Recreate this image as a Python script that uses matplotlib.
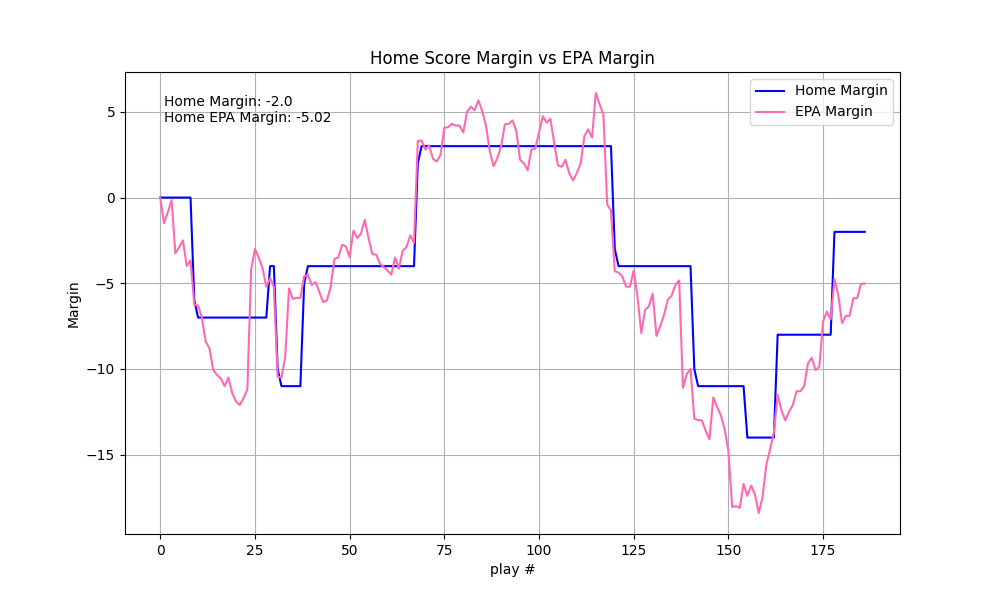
import matplotlib
matplotlib.use("Agg")
import matplotlib.pyplot as plt
import numpy as np

# score margin (home - away) after each play
home_margin = [
    0, 0, 0, 0, 0, 0, 0, 0, 0, -6,
    -7, -7, -7, -7, -7, -7, -7, -7, -7, -7,
    -7, -7, -7, -7, -7, -7, -7, -7, -7, -4,
    -4, -10, -11, -11, -11, -11, -11, -11, -5, -4,
    -4, -4, -4, -4, -4, -4, -4, -4, -4, -4,
    -4, -4, -4, -4, -4, -4, -4, -4, -4, -4,
    -4, -4, -4, -4, -4, -4, -4, -4, 2, 3,
    3, 3, 3, 3, 3, 3, 3, 3, 3, 3,
    3, 3, 3, 3, 3, 3, 3, 3, 3, 3,
    3, 3, 3, 3, 3, 3, 3, 3, 3, 3,
    3, 3, 3, 3, 3, 3, 3, 3, 3, 3,
    3, 3, 3, 3, 3, 3, 3, 3, 3, 3,
    -3, -4, -4, -4, -4, -4, -4, -4, -4, -4,
    -4, -4, -4, -4, -4, -4, -4, -4, -4, -4,
    -4, -10, -11, -11, -11, -11, -11, -11, -11, -11,
    -11, -11, -11, -11, -11, -14, -14, -14, -14, -14,
    -14, -14, -14, -8, -8, -8, -8, -8, -8, -8,
    -8, -8, -8, -8, -8, -8, -8, -8, -2, -2,
    -2, -2, -2, -2, -2, -2, -2,
]

# expected points margin after each play
epa_margin = [
    0.0, -1.5, -0.85, -0.15, -3.25, -2.9, -2.5, -4.0, -3.65, -6.26,
    -6.3, -7.0, -8.4, -8.8, -10.06, -10.35, -10.55, -11.0, -10.5, -11.4,
    -11.9, -12.1, -11.7, -11.2, -4.2, -3.0, -3.5, -4.1, -5.2, -4.7,
    -5.2, -10.45, -10.5, -9.3, -5.3, -5.9, -5.85, -5.85, -4.6, -4.5,
    -5.1, -4.93, -5.5, -6.1, -6.0, -5.2, -3.57, -3.5, -2.75, -2.85,
    -3.47, -1.93, -2.36, -2.1, -1.29, -2.36, -3.3, -3.33, -3.85, -4.05,
    -4.25, -4.5, -3.5, -4.15, -3.1, -2.9, -2.2, -2.65, 3.3, 3.33,
    2.8, 3.04, 2.26, 2.1, 2.5, 4.07, 4.1, 4.3, 4.2, 4.2,
    3.8, 5.0, 5.3, 5.1, 5.67, 5.05, 4.2, 2.7, 1.83, 2.3,
    3.0, 4.27, 4.3, 4.5, 3.9, 2.2, 2.0, 1.6, 2.8, 2.85,
    3.8, 4.75, 4.37, 4.6, 3.2, 1.87, 1.8, 2.2, 1.4, 1.0,
    1.44, 2.0, 3.6, 3.98, 3.5, 6.1, 5.44, 4.85, -0.4, -0.75,
    -4.3, -4.37, -4.6, -5.2, -5.2, -4.25, -5.77, -7.9, -6.55, -6.35,
    -5.6, -8.07, -7.5, -6.85, -5.96, -5.73, -5.1, -4.83, -11.1, -10.3,
    -10.0, -12.9, -12.98, -13.0, -13.6, -14.1, -11.66, -12.2, -12.7, -13.5,
    -14.8, -18.05, -18.0, -18.1, -16.7, -17.4, -16.8, -17.3, -18.4, -17.5,
    -15.6, -14.7, -13.7, -11.5, -12.4, -13.0, -12.5, -12.1, -11.3, -11.3,
    -11.0, -9.67, -9.34, -10.06, -9.87, -7.23, -6.65, -7.1, -4.76, -5.67,
    -7.33, -6.9, -6.9, -5.87, -5.87, -5.03, -5.02,
]

plays = np.arange(len(home_margin))

fig, ax = plt.subplots(figsize=(10, 6), dpi=100)
ax.plot(plays, home_margin, color='blue', label='Home Margin')
ax.plot(plays, epa_margin, color='hotpink', label='EPA Margin')

ax.text(0.05, 0.95, 'Home Margin: -2.0\nHome EPA Margin: -5.02',
        transform=ax.transAxes, va='top', fontsize=10)

ax.set_title('Home Score Margin vs EPA Margin')
ax.set_xlabel('play #')
ax.set_ylabel('Margin')
ax.legend(loc='upper right')
ax.grid(True)

plt.savefig('out.png')
